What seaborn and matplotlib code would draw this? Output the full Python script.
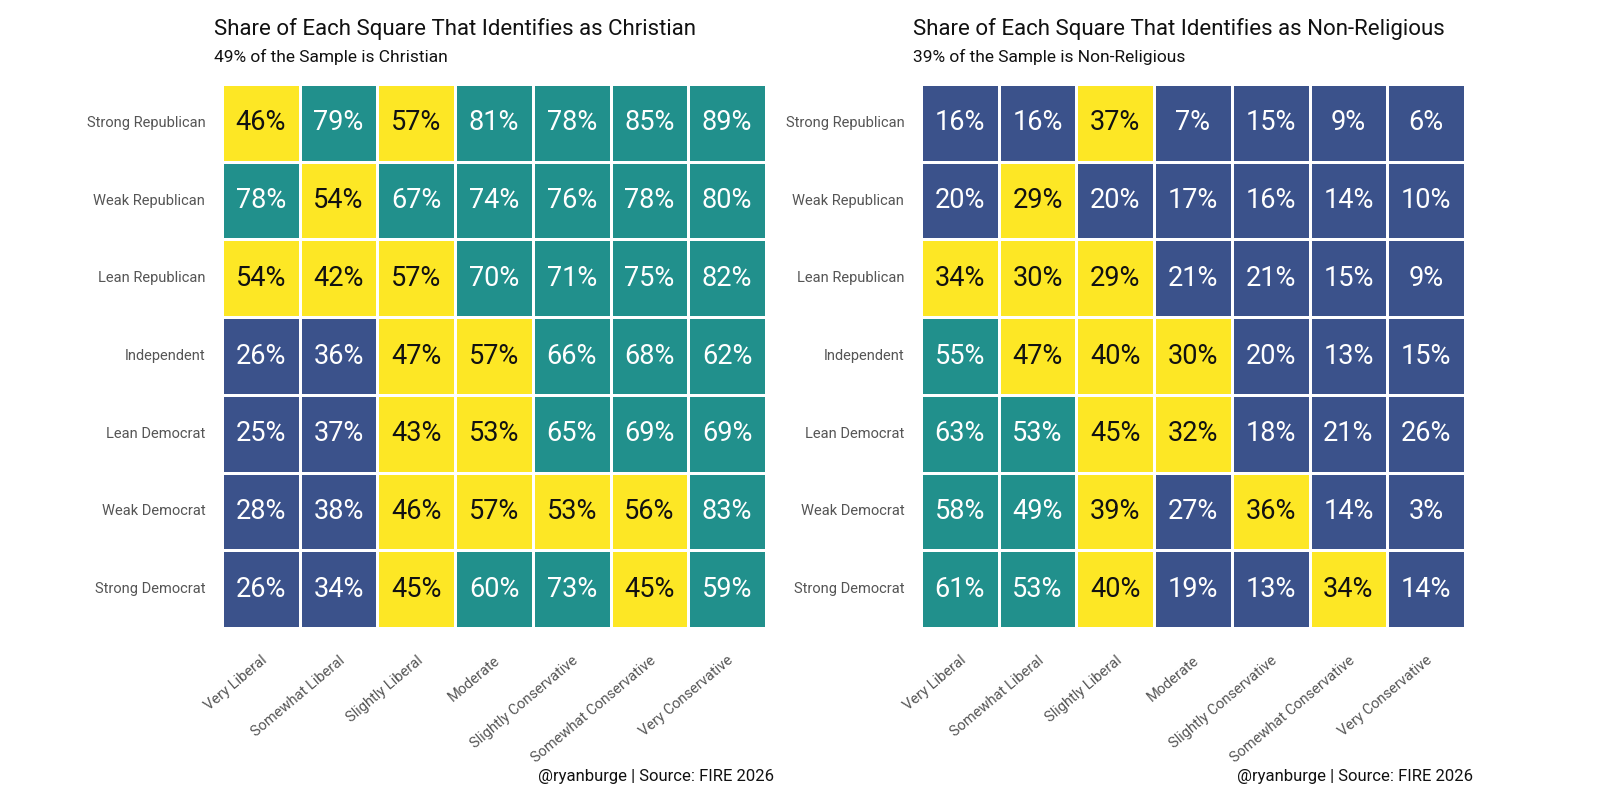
import numpy as np
import pandas as pd
import seaborn as sns
import matplotlib.pyplot as plt
from matplotlib.colors import ListedColormap

# filas = partido, columnas = ideologia
party = ['Strong Republican', 'Weak Republican', 'Lean Republican', 'Independent',
         'Lean Democrat', 'Weak Democrat', 'Strong Democrat']
ideology = ['Very Liberal', 'Somewhat Liberal', 'Slightly Liberal', 'Moderate',
            'Slightly Conservative', 'Somewhat Conservative', 'Very Conservative']

christian = [
    [46, 79, 57, 81, 78, 85, 89],
    [78, 54, 67, 74, 76, 78, 80],
    [54, 42, 57, 70, 71, 75, 82],
    [26, 36, 47, 57, 66, 68, 62],
    [25, 37, 43, 53, 65, 69, 69],
    [28, 38, 46, 57, 53, 56, 83],
    [26, 34, 45, 60, 73, 45, 59],
]
nonreligious = [
    [16, 16, 37, 7, 15, 9, 6],
    [20, 29, 20, 17, 16, 14, 10],
    [34, 30, 29, 21, 21, 15, 9],
    [55, 47, 40, 30, 20, 13, 15],
    [63, 53, 45, 32, 18, 21, 26],
    [58, 49, 39, 27, 36, 14, 3],
    [61, 53, 40, 19, 13, 34, 14],
]
sample_christian = 49
sample_nonrel = 39

BLUE = '#3B528B'
YELLOW = '#FDE725'
TEAL = '#21908C'

sns.set_theme(style='white')
plt.rcParams['font.family'] = ['Roboto', 'DejaVu Sans']


def bands(vals, mean):
    # 0 = debajo, 1 = cerca de la media, 2 = encima
    v = np.array(vals)
    cat = np.ones_like(v)
    cat[v < mean - 10] = 0
    cat[v >= mean + 10] = 2
    return cat


def draw(ax, vals, mean, title, subtitle):
    cat = pd.DataFrame(bands(vals, mean), index=party, columns=ideology)
    labels = np.array([[f'{x}%' for x in row] for row in vals])
    sns.heatmap(cat, ax=ax, cmap=ListedColormap([BLUE, YELLOW, TEAL]), vmin=-0.5, vmax=2.5,
                cbar=False, annot=labels, fmt='', linewidths=1.0, linecolor='white',
                annot_kws={'fontsize': 19.5, 'fontweight': 'normal'})
    # texto negro sobre amarillo
    for t, c in zip(ax.texts, cat.values.flatten()):
        t.set_color('#111111' if c == 1 else 'white')
    ax.tick_params(length=0)
    ax.tick_params(axis='y', pad=12)
    ax.tick_params(axis='x', pad=18)
    ax.set_xlabel('')
    ax.set_ylabel('')
    plt.setp(ax.get_yticklabels(), rotation=0, fontsize=10.5, color='#555555')
    plt.setp(ax.get_xticklabels(), rotation=40, ha='right', rotation_mode='anchor',
             fontsize=10.5, color='#555555')
    ax.text(-0.015, 1.08, title, transform=ax.transAxes, fontsize=16, ha='left', va='bottom',
            color='#111111')
    ax.text(-0.015, 1.035, subtitle, transform=ax.transAxes, fontsize=12.5, ha='left', va='bottom',
            color='#111111')
    ax.text(1.015, -0.26, '@ryanburge | Source: FIRE 2026', transform=ax.transAxes,
            fontsize=12, ha='right', va='top', color='#111111')


fig = plt.figure(figsize=(16, 8), dpi=100)
ax1 = fig.add_axes([0.13875, 0.215, 0.34, 0.68])
ax2 = fig.add_axes([0.5756, 0.215, 0.34, 0.68])

draw(ax1, christian, sample_christian,
     'Share of Each Square That Identifies as Christian',
     f'{sample_christian}% of the Sample is Christian')
draw(ax2, nonreligious, sample_nonrel,
     'Share of Each Square That Identifies as Non-Religious',
     f'{sample_nonrel}% of the Sample is Non-Religious')

plt.savefig('out.png', dpi=100, facecolor='white')
